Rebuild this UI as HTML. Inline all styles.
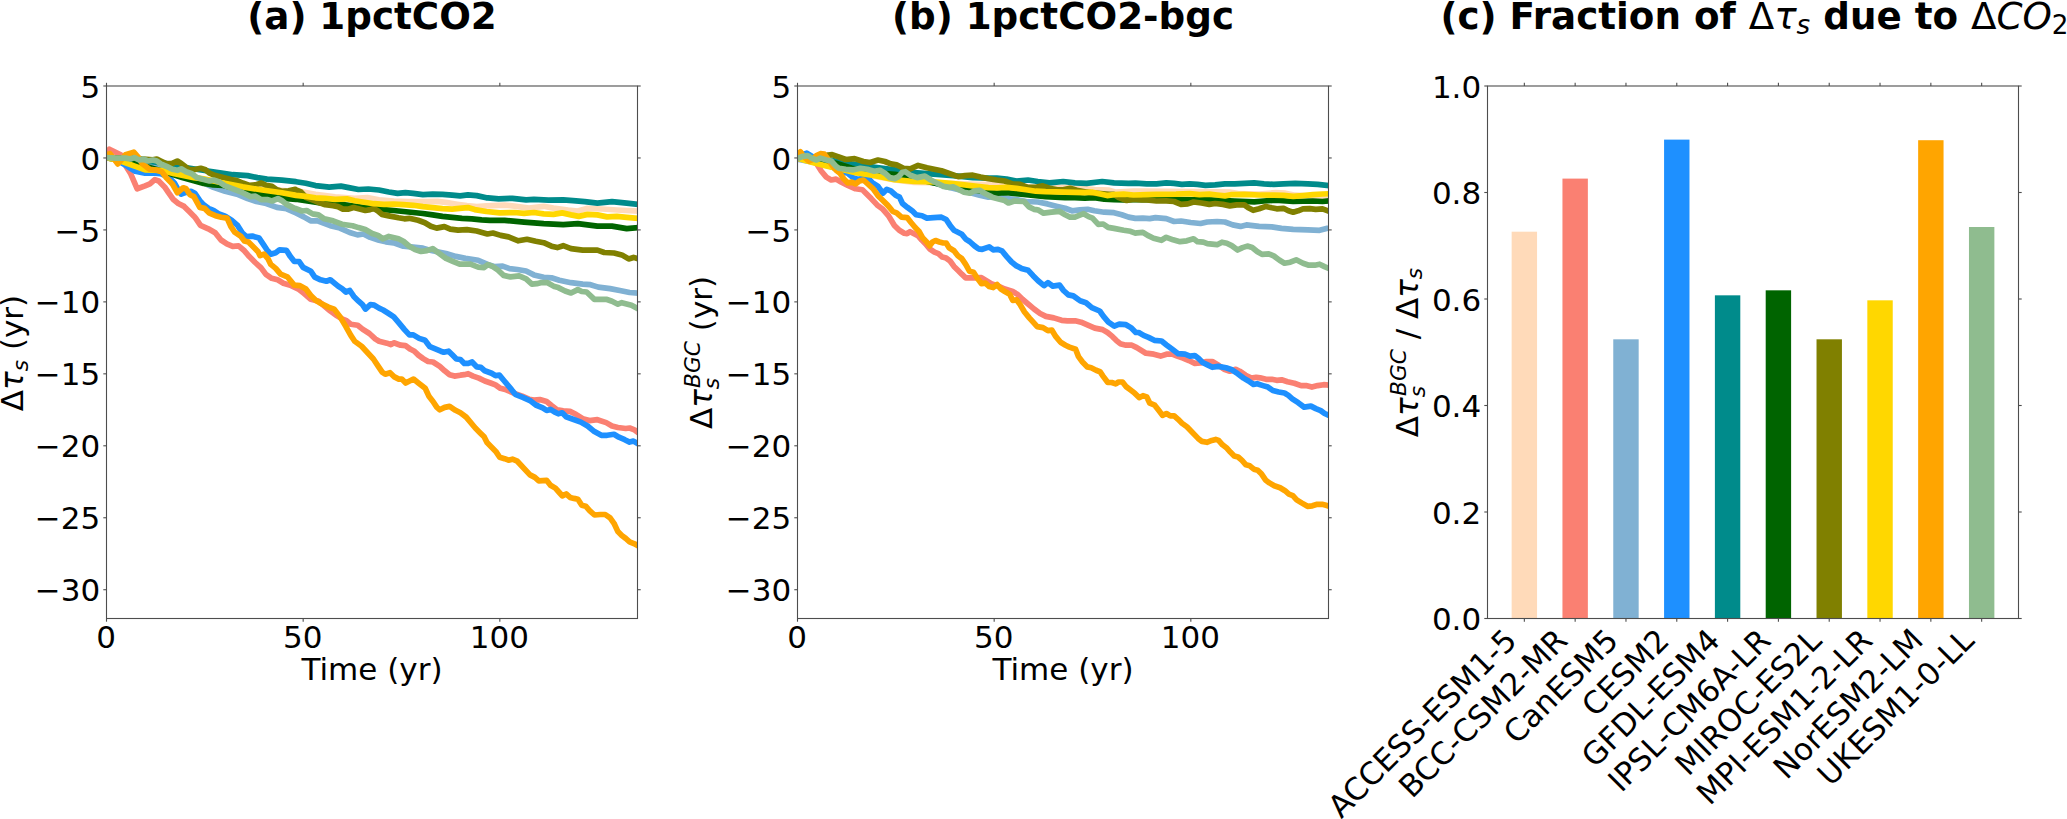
<!DOCTYPE html>
<html lang="en"><head><meta charset="utf-8"><title>Figure</title>
<style>html,body{margin:0;padding:0;background:#fff}body{width:2067px;height:819px;overflow:hidden}svg{display:block}text{font-family:"DejaVu Sans","Liberation Sans",sans-serif;fill:#000}.t{font-size:31.00px}.b{font-weight:bold;font-size:37.25px}.n{font-weight:normal;font-style:normal}.i{font-style:italic}.sp{fill:none;stroke:#4d4d4d;stroke-width:1.1}.tk{stroke:#4d4d4d;stroke-width:1.1}.ln{fill:none;stroke-width:5.7;stroke-linejoin:round;stroke-linecap:butt}</style></head><body>
<svg width="2067" height="819" viewBox="0 0 2067 819">
<rect width="2067" height="819" fill="#fff"/>
<defs>
<clipPath id="c0"><rect x="106.50" y="86.00" width="531.00" height="532.50"/></clipPath>
<clipPath id="c1"><rect x="797.50" y="86.00" width="531.00" height="532.50"/></clipPath>
</defs>
<g clip-path="url(#c0)">
<path class="ln" stroke="#ffdab9" d="M106.5 157.8 L135.3 164.4 L164.6 172.2 L198.8 181.0 L223.2 183.5 L252.5 187.8 L286.7 190.8 L301.9 191.7 L315.5 194.4 L335.1 196.9 L354.6 198.3 L367.3 197.6 L379.0 199.8 L393.7 201.2 L408.3 201.7 L422.9 201.7 L437.6 201.4 L447.4 202.7 L457.1 204.2 L466.9 205.6 L476.7 206.5 L486.4 205.8 L504.6 205.1 L514.4 206.1 L529.0 208.1 L543.7 206.3 L553.4 208.1 L568.1 210.0 L577.8 211.0 L587.6 208.3 L602.2 209.0 L616.9 210.0 L638.9 211.1"/>
<path class="ln" stroke="#fa8072" d="M106.5 157.4 L109.4 149.3 L120.7 154.7 L125.5 165.4 L130.4 173.2 L137.2 188.8 L145.1 185.9 L149.9 183.9 L154.8 179.6 L158.7 181.0 L164.6 186.9 L168.5 192.7 L173.4 199.6 L178.3 203.5 L184.1 206.4 L189.0 211.3 L193.9 216.2 L195.6 218.1 L200.5 225.4 L208.3 228.8 L215.2 232.7 L221.0 240.0 L226.9 243.9 L232.7 246.4 L238.6 245.9 L244.4 250.8 L249.3 256.6 L255.2 262.5 L261.1 267.9 L265.9 274.4 L271.7 278.3 L277.6 279.8 L283.4 283.2 L291.2 285.6 L299.1 289.5 L303.9 293.4 L310.8 299.3 L318.6 301.2 L324.4 306.1 L330.3 311.0 L337.1 315.9 L342.0 318.8 L345.9 320.3 L350.8 324.2 L357.7 325.2 L362.5 329.1 L369.4 333.5 L375.2 338.9 L379.1 341.3 L386.9 343.2 L390.9 344.7 L393.8 342.8 L400.6 345.2 L405.5 345.7 L410.6 349.3 L414.4 351.2 L418.4 355.1 L423.2 358.6 L428.1 361.5 L433.0 362.0 L439.8 366.4 L444.7 370.8 L449.6 374.7 L454.5 376.1 L460.4 375.2 L464.3 374.7 L468.2 373.7 L473.1 376.1 L478.9 378.1 L484.8 381.0 L490.6 383.0 L495.5 384.9 L500.4 388.3 L506.2 389.8 L514.4 393.3 L522.2 396.2 L529.0 399.2 L533.9 400.1 L539.8 399.6 L546.6 401.6 L551.5 405.5 L557.3 409.9 L563.2 410.9 L570.0 411.4 L575.9 414.3 L582.7 418.7 L589.5 420.6 L597.4 419.7 L606.2 422.6 L612.0 426.0 L617.9 427.5 L625.7 428.5 L629.6 428.0 L634.5 429.9 L638.9 433.1"/>
<path class="ln" stroke="#80b1d3" d="M106.5 157.6 L130.4 160.5 L154.8 164.9 L184.1 174.7 L203.7 183.0 L213.4 187.4 L225.1 191.3 L236.9 194.2 L247.6 198.6 L256.4 201.5 L266.2 203.5 L276.9 207.4 L286.7 208.8 L296.0 213.0 L303.8 216.9 L310.6 220.8 L317.5 220.8 L330.2 225.7 L339.9 228.1 L349.7 232.5 L357.5 234.9 L363.4 234.0 L370.2 237.4 L379.0 240.3 L385.8 241.8 L393.7 242.8 L403.4 246.2 L413.2 247.2 L422.9 248.1 L428.8 250.0 L446.0 253.5 L455.8 256.4 L465.5 258.4 L478.2 260.3 L487.0 264.2 L494.8 266.6 L502.6 266.1 L509.5 268.6 L517.3 269.5 L526.1 271.0 L533.9 274.9 L543.7 277.3 L551.5 277.8 L559.3 280.3 L571.0 282.7 L582.7 284.2 L590.5 284.7 L598.3 287.1 L610.1 288.6 L619.8 290.5 L629.6 292.5 L638.9 293.1"/>
<path class="ln" stroke="#1e90ff" d="M106.5 156.6 L115.8 159.5 L124.5 164.4 L130.4 168.3 L135.3 171.2 L145.1 173.2 L154.8 173.2 L160.7 173.7 L168.5 177.1 L174.4 183.0 L178.3 189.8 L181.2 194.2 L185.1 192.7 L191.0 191.3 L194.9 193.2 L199.8 200.6 L203.7 204.9 L208.5 208.4 L213.4 210.3 L218.3 213.7 L225.1 216.2 L225.9 216.6 L231.8 220.5 L237.6 225.4 L242.5 233.2 L246.4 236.6 L252.3 236.1 L259.1 238.1 L263.0 243.9 L266.9 249.8 L270.8 254.2 L275.7 252.7 L279.6 249.8 L286.4 250.3 L290.4 256.6 L294.3 261.5 L299.1 261.5 L303.1 267.4 L310.9 271.3 L314.8 277.1 L320.6 279.8 L326.4 281.2 L330.3 279.8 L338.1 286.1 L342.0 288.6 L345.9 292.0 L349.8 290.5 L353.8 296.4 L358.6 301.2 L362.5 304.7 L365.5 309.1 L370.4 304.7 L374.3 305.2 L379.1 308.1 L383.1 310.0 L387.9 313.0 L393.8 316.9 L398.7 322.7 L404.5 329.6 L409.4 334.9 L413.3 334.9 L419.2 338.4 L425.0 340.3 L429.9 346.7 L440.8 351.2 L443.8 352.2 L448.6 351.2 L452.5 355.1 L456.4 359.0 L460.4 359.5 L464.3 363.4 L468.2 363.4 L472.1 362.0 L476.9 366.9 L480.9 367.3 L484.8 370.8 L491.6 373.2 L495.5 375.6 L499.4 375.2 L504.3 381.0 L511.4 389.4 L515.3 394.3 L522.2 397.2 L530.0 400.6 L535.8 405.0 L542.7 407.9 L546.6 410.4 L550.5 409.4 L554.4 411.9 L558.3 413.8 L562.2 412.8 L566.1 416.7 L573.0 419.2 L580.8 422.1 L587.6 426.0 L593.5 430.9 L601.3 435.3 L607.1 435.3 L614.0 434.3 L618.9 437.2 L624.7 439.7 L629.6 442.1 L633.5 441.1 L638.9 444.3"/>
<path class="ln" stroke="#008b8b" d="M106.5 157.8 L135.3 159.5 L168.5 163.9 L178.3 166.4 L190.0 168.3 L209.5 171.2 L223.2 173.2 L232.9 174.7 L247.6 175.6 L257.4 177.6 L267.1 179.1 L281.8 180.2 L296.0 181.7 L305.8 183.2 L315.5 185.6 L329.2 187.1 L340.9 186.1 L348.7 187.6 L358.5 189.5 L368.3 189.0 L379.0 190.0 L388.8 192.0 L397.6 193.4 L405.4 192.7 L413.2 193.4 L422.9 194.6 L432.7 194.2 L442.5 194.4 L452.2 195.2 L460.1 195.9 L467.9 194.9 L476.7 195.6 L486.4 197.8 L488.0 197.8 L498.7 198.8 L512.4 198.3 L526.1 199.8 L533.9 199.3 L548.5 200.2 L563.2 199.8 L573.0 200.7 L584.7 201.7 L597.4 203.2 L612.0 201.7 L626.7 203.2 L638.9 204.4"/>
<path class="ln" stroke="#006400" d="M106.5 157.8 L135.3 163.4 L164.6 171.7 L182.2 177.6 L193.9 180.8 L203.7 183.5 L213.4 184.9 L223.2 185.5 L232.9 187.8 L242.7 190.3 L252.5 192.7 L272.0 196.2 L286.7 198.6 L296.0 199.3 L305.8 200.8 L315.5 202.2 L325.3 203.7 L335.1 204.2 L344.8 204.7 L354.6 206.1 L364.4 207.6 L374.1 208.3 L383.9 209.6 L393.7 210.5 L403.4 211.5 L413.2 212.5 L422.9 213.5 L432.7 214.9 L442.5 216.4 L452.2 217.4 L462.0 218.3 L471.8 218.8 L481.6 219.8 L489.9 220.3 L504.6 220.3 L524.1 222.2 L543.7 223.7 L563.2 224.7 L577.8 223.7 L597.4 226.1 L612.0 226.1 L626.7 228.6 L638.9 227.5"/>
<path class="ln" stroke="#808000" d="M106.5 157.6 L125.5 158.1 L134.3 157.8 L143.1 159.2 L152.9 159.8 L156.8 159.0 L160.7 161.0 L166.6 163.9 L172.4 163.4 L177.3 161.0 L181.2 163.4 L186.1 167.3 L190.0 169.8 L195.8 169.3 L200.7 168.3 L205.6 169.8 L209.5 173.2 L215.4 175.6 L223.2 177.6 L231.0 179.6 L236.9 180.5 L242.7 183.0 L249.6 185.4 L255.4 184.9 L261.3 183.0 L266.2 185.4 L272.0 186.4 L276.9 189.8 L281.8 191.3 L288.6 190.8 L295.4 189.3 L296.0 190.0 L300.9 192.0 L305.8 197.3 L315.5 201.2 L325.3 204.7 L333.1 205.6 L338.0 206.6 L342.9 209.1 L348.7 209.1 L353.6 207.6 L359.5 209.1 L365.3 210.5 L370.2 209.6 L374.1 208.6 L378.0 211.0 L381.9 214.4 L388.8 215.9 L398.5 217.8 L404.4 218.8 L409.3 218.3 L418.1 220.3 L424.9 222.7 L430.8 226.2 L436.6 228.1 L444.4 226.6 L450.3 229.1 L458.1 230.1 L466.9 229.6 L476.7 231.0 L487.4 234.0 L492.9 233.0 L500.7 235.4 L508.5 236.9 L518.3 240.8 L527.0 239.3 L535.8 241.3 L543.7 242.7 L551.5 246.2 L557.3 247.6 L563.2 245.7 L571.0 248.6 L582.7 250.1 L597.4 250.1 L604.2 252.5 L614.0 253.0 L621.8 254.9 L628.6 258.9 L633.5 257.4 L638.9 259.1"/>
<path class="ln" stroke="#ffd700" d="M106.5 157.8 L120.7 161.0 L135.3 166.4 L145.1 169.8 L160.7 170.3 L174.4 173.7 L184.1 175.6 L193.9 177.6 L203.7 178.9 L223.2 183.0 L242.7 186.9 L262.2 190.0 L281.8 192.7 L296.0 195.4 L305.8 196.4 L315.5 197.8 L325.3 198.3 L335.1 199.3 L346.8 198.8 L354.6 200.8 L364.4 202.2 L374.1 203.7 L383.9 204.4 L393.7 204.2 L403.4 204.7 L413.2 205.3 L422.9 206.6 L432.7 207.6 L442.5 208.6 L452.2 209.1 L462.0 208.1 L467.9 207.6 L474.7 209.6 L486.4 211.5 L499.7 212.9 L514.4 212.5 L524.1 213.4 L533.9 212.5 L543.7 213.9 L553.4 214.4 L562.2 212.9 L571.0 214.9 L578.8 216.4 L587.6 214.4 L597.4 214.9 L607.1 216.9 L616.9 216.4 L626.7 217.3 L638.9 218.4"/>
<path class="ln" stroke="#ffa500" d="M106.5 154.7 L109.9 153.7 L113.8 158.6 L117.7 163.9 L121.6 159.5 L125.5 154.7 L133.8 152.2 L138.2 157.1 L142.1 163.4 L147.0 167.3 L149.9 169.3 L156.8 170.3 L161.7 171.7 L166.6 178.1 L172.4 183.9 L177.3 192.7 L183.2 187.8 L186.1 188.8 L190.0 194.7 L193.9 196.6 L199.8 207.4 L204.6 208.4 L209.5 213.2 L215.4 215.7 L221.2 217.2 L227.1 218.1 L227.8 219.5 L230.8 226.4 L234.7 232.2 L240.6 236.1 L244.4 241.0 L248.4 242.0 L254.2 247.8 L258.1 251.8 L260.1 255.7 L264.0 254.2 L267.9 258.6 L270.8 264.4 L275.7 268.4 L280.6 274.2 L287.3 276.8 L294.2 285.1 L300.0 285.6 L305.9 289.0 L310.8 295.4 L315.7 300.3 L320.6 303.2 L328.4 307.1 L334.2 309.1 L340.1 316.9 L345.9 326.6 L350.8 335.4 L354.7 341.3 L361.6 346.2 L373.4 359.0 L378.3 366.4 L382.2 372.2 L385.2 374.2 L390.0 372.7 L393.9 376.6 L398.8 379.1 L401.8 379.1 L405.7 383.0 L409.6 381.0 L413.5 379.1 L418.4 383.0 L425.2 388.3 L429.1 396.6 L433.0 401.5 L436.9 407.4 L439.8 409.8 L444.7 407.4 L449.6 406.4 L455.5 410.3 L460.4 412.8 L466.2 417.1 L475.3 428.0 L480.2 432.9 L484.1 436.8 L487.0 442.6 L490.9 446.5 L495.8 451.4 L499.7 457.3 L504.6 458.7 L508.5 460.2 L512.4 459.2 L517.3 461.2 L530.0 474.9 L534.9 477.4 L538.8 480.8 L546.6 480.3 L550.5 485.2 L555.4 488.1 L559.3 492.5 L562.3 495.9 L566.2 494.0 L570.1 497.4 L574.0 498.4 L577.9 499.3 L581.8 505.2 L585.7 506.2 L589.6 510.6 L594.5 515.0 L600.4 514.5 L605.2 514.5 L610.1 517.9 L614.0 523.3 L617.9 531.6 L621.8 535.5 L625.7 538.4 L629.6 541.8 L634.5 543.8 L638.9 546.4"/>
<path class="ln" stroke="#8fbc8f" d="M106.5 157.6 L115.8 158.1 L125.5 158.1 L130.4 159.0 L134.3 157.6 L139.2 160.0 L143.1 159.0 L148.0 161.0 L152.9 160.0 L156.8 161.0 L160.7 163.9 L166.6 166.4 L172.4 169.3 L177.3 170.3 L181.2 168.8 L186.1 171.7 L191.9 173.7 L196.8 177.6 L203.7 179.6 L209.5 181.0 L213.4 180.0 L219.3 182.0 L225.1 185.9 L232.9 188.8 L242.7 192.7 L250.5 196.6 L255.4 196.2 L261.3 199.6 L267.1 199.6 L272.0 201.0 L277.9 198.6 L281.8 200.6 L286.7 204.4 L294.5 208.4 L296.0 208.6 L301.9 211.0 L306.7 210.5 L312.6 213.9 L318.5 214.9 L324.3 218.8 L333.1 220.8 L341.9 224.2 L352.6 225.7 L358.5 227.6 L365.3 229.6 L372.2 233.5 L378.0 235.4 L382.9 238.8 L388.8 236.4 L398.5 238.8 L403.4 241.3 L409.3 246.2 L415.1 249.6 L421.0 251.5 L426.9 250.6 L432.7 248.6 L446.0 258.4 L452.8 261.3 L459.7 264.2 L470.4 264.2 L478.2 267.1 L484.1 267.6 L488.0 264.6 L492.9 266.6 L497.8 270.0 L503.6 275.4 L510.4 276.9 L519.2 275.9 L526.1 278.8 L531.9 284.2 L536.8 283.7 L540.7 282.7 L547.6 282.7 L554.4 286.6 L558.3 287.6 L565.1 291.0 L571.0 293.0 L577.8 289.6 L581.7 291.5 L586.6 292.0 L594.4 299.3 L606.2 299.3 L612.0 301.3 L617.9 304.2 L621.8 302.7 L631.5 305.2 L638.9 309.2"/>
</g>
<line class="tk" x1="106.50" y1="618.50" x2="106.50" y2="621.70"/>
<line class="tk" x1="106.50" y1="86.00" x2="106.50" y2="82.80"/>
<text class="t" text-anchor="middle" x="106.10" y="647.60">0</text>
<line class="tk" x1="303.17" y1="618.50" x2="303.17" y2="621.70"/>
<line class="tk" x1="303.17" y1="86.00" x2="303.17" y2="82.80"/>
<text class="t" text-anchor="middle" x="302.77" y="647.60">50</text>
<line class="tk" x1="499.83" y1="618.50" x2="499.83" y2="621.70"/>
<line class="tk" x1="499.83" y1="86.00" x2="499.83" y2="82.80"/>
<text class="t" text-anchor="middle" x="499.43" y="647.60">100</text>
<line class="tk" x1="106.50" y1="86.00" x2="103.30" y2="86.00"/>
<line class="tk" x1="637.50" y1="86.00" x2="640.70" y2="86.00"/>
<text class="t" text-anchor="end" x="100.20" y="97.60">5</text>
<line class="tk" x1="106.50" y1="157.96" x2="103.30" y2="157.96"/>
<line class="tk" x1="637.50" y1="157.96" x2="640.70" y2="157.96"/>
<text class="t" text-anchor="end" x="100.20" y="169.56">0</text>
<line class="tk" x1="106.50" y1="229.92" x2="103.30" y2="229.92"/>
<line class="tk" x1="637.50" y1="229.92" x2="640.70" y2="229.92"/>
<text class="t" text-anchor="end" x="100.20" y="241.52">−5</text>
<line class="tk" x1="106.50" y1="301.88" x2="103.30" y2="301.88"/>
<line class="tk" x1="637.50" y1="301.88" x2="640.70" y2="301.88"/>
<text class="t" text-anchor="end" x="100.20" y="313.48">−10</text>
<line class="tk" x1="106.50" y1="373.84" x2="103.30" y2="373.84"/>
<line class="tk" x1="637.50" y1="373.84" x2="640.70" y2="373.84"/>
<text class="t" text-anchor="end" x="100.20" y="385.44">−15</text>
<line class="tk" x1="106.50" y1="445.80" x2="103.30" y2="445.80"/>
<line class="tk" x1="637.50" y1="445.80" x2="640.70" y2="445.80"/>
<text class="t" text-anchor="end" x="100.20" y="457.40">−20</text>
<line class="tk" x1="106.50" y1="517.76" x2="103.30" y2="517.76"/>
<line class="tk" x1="637.50" y1="517.76" x2="640.70" y2="517.76"/>
<text class="t" text-anchor="end" x="100.20" y="529.36">−25</text>
<line class="tk" x1="106.50" y1="589.72" x2="103.30" y2="589.72"/>
<line class="tk" x1="637.50" y1="589.72" x2="640.70" y2="589.72"/>
<text class="t" text-anchor="end" x="100.20" y="601.32">−30</text>
<rect class="sp" x="106.50" y="86.00" width="531.00" height="532.50"/>
<text class="t" text-anchor="middle" x="372.00" y="680.00">Time (yr)</text>
<g clip-path="url(#c1)">
<path class="ln" stroke="#ffdab9" d="M797.5 158.1 L826.3 165.4 L855.6 172.7 L894.7 180.0 L914.2 182.5 L943.5 183.0 L977.7 184.4 L988.4 184.7 L996.8 184.4 L1006.5 184.9 L1026.1 186.9 L1049.5 187.5 L1065.1 187.3 L1074.9 188.1 L1084.7 188.6 L1094.4 189.6 L1109.1 190.1 L1115.9 192.2 L1133.5 191.2 L1146.8 191.2 L1166.3 191.4 L1195.6 191.7 L1215.1 191.9 L1229.8 192.0 L1239.5 193.7 L1259.1 194.2 L1275.7 192.7 L1285.4 193.2 L1295.2 195.2 L1312.8 196.1 L1329.9 196.6"/>
<path class="ln" stroke="#fa8072" d="M797.5 156.1 L806.8 157.1 L812.6 158.6 L816.5 163.4 L821.4 171.2 L826.3 177.1 L831.2 180.0 L836.1 179.1 L841.0 182.0 L847.8 185.4 L855.6 188.8 L862.4 189.8 L865.4 192.7 L871.2 198.6 L877.1 204.9 L882.9 209.3 L888.8 216.2 L894.4 225.4 L899.3 230.3 L904.2 233.2 L907.1 233.7 L910.1 231.7 L914.0 233.7 L917.9 235.6 L921.8 240.0 L925.7 243.9 L929.6 248.8 L934.5 252.2 L938.4 253.7 L942.3 257.1 L946.2 258.1 L950.1 261.0 L954.0 266.4 L957.9 270.3 L961.8 274.2 L965.7 277.8 L974.5 277.8 L981.4 277.6 L991.2 283.7 L997.1 285.6 L1004.9 289.0 L1012.7 291.5 L1017.6 294.4 L1022.5 299.3 L1028.4 304.2 L1034.2 309.1 L1040.1 313.5 L1045.9 316.4 L1053.8 317.9 L1061.6 320.3 L1067.4 320.8 L1075.2 320.8 L1081.1 322.2 L1087.9 325.2 L1094.8 328.1 L1102.6 329.6 L1107.5 332.5 L1112.3 336.4 L1116.2 340.3 L1120.2 343.7 L1126.0 345.2 L1131.9 345.2 L1136.8 347.6 L1145.9 353.2 L1153.8 354.2 L1160.6 356.1 L1166.5 354.2 L1172.3 354.2 L1177.2 356.1 L1183.0 358.1 L1188.9 360.5 L1194.8 363.4 L1200.6 362.9 L1206.5 361.5 L1212.3 361.5 L1217.2 364.4 L1224.1 369.3 L1229.9 371.2 L1235.8 369.3 L1239.7 371.2 L1245.5 375.2 L1251.4 378.1 L1256.2 377.3 L1260.1 377.8 L1266.0 379.3 L1271.8 379.3 L1276.7 380.3 L1281.6 379.8 L1287.5 381.7 L1294.3 383.2 L1301.1 385.6 L1306.0 385.6 L1311.9 387.1 L1317.7 385.6 L1323.6 384.7 L1329.9 385.2"/>
<path class="ln" stroke="#80b1d3" d="M797.5 159.3 L836.1 166.4 L875.1 170.8 L894.7 172.4 L914.2 176.6 L943.5 185.9 L963.0 190.8 L979.6 195.2 L988.4 197.1 L996.8 196.6 L1006.5 198.6 L1016.3 199.6 L1026.1 201.5 L1037.8 202.0 L1047.5 203.9 L1057.3 206.4 L1065.1 208.3 L1072.0 210.8 L1079.8 209.8 L1087.6 209.3 L1094.4 210.8 L1104.2 212.2 L1114.0 212.7 L1121.8 214.7 L1128.6 217.1 L1135.4 218.4 L1142.9 218.1 L1149.7 218.6 L1155.5 217.6 L1166.3 218.6 L1174.1 221.5 L1181.0 221.0 L1190.7 222.5 L1200.5 223.5 L1207.3 222.0 L1217.1 221.5 L1224.9 222.0 L1232.7 224.9 L1240.5 226.4 L1246.4 224.9 L1259.1 226.4 L1271.8 226.9 L1281.5 228.4 L1293.2 229.3 L1307.9 229.8 L1319.6 230.3 L1326.5 228.4 L1329.9 228.2"/>
<path class="ln" stroke="#1e90ff" d="M797.5 158.1 L801.9 154.7 L806.8 153.2 L812.6 156.6 L826.3 164.4 L841.0 171.2 L847.8 173.2 L853.6 178.1 L858.5 179.6 L863.4 177.6 L867.3 177.6 L872.2 182.5 L878.0 186.4 L882.9 193.2 L886.8 189.3 L890.8 190.8 L895.6 195.2 L899.5 197.1 L902.5 203.5 L907.4 207.4 L912.2 210.8 L916.1 214.7 L922.0 215.7 L926.9 218.1 L933.7 217.6 L941.5 217.2 L946.2 219.5 L950.1 225.4 L954.0 230.3 L958.9 232.7 L961.8 234.2 L965.7 239.1 L969.6 241.5 L974.5 245.9 L978.4 248.8 L982.3 249.3 L989.2 246.9 L993.1 249.8 L998.0 249.3 L1001.9 250.8 L1006.7 256.6 L1011.6 262.0 L1016.5 265.9 L1021.4 268.4 L1028.2 270.3 L1033.1 275.7 L1038.1 280.7 L1044.0 285.6 L1047.9 282.7 L1052.8 286.1 L1059.6 285.1 L1063.5 290.5 L1068.4 294.9 L1073.3 295.9 L1080.1 300.8 L1086.0 302.7 L1091.8 307.6 L1099.7 311.0 L1103.5 316.4 L1108.4 322.2 L1114.3 326.1 L1119.2 324.2 L1126.0 324.7 L1130.9 327.6 L1135.8 332.5 L1138.7 332.5 L1143.6 335.4 L1148.5 337.4 L1154.3 340.3 L1161.6 341.0 L1166.5 344.9 L1172.3 349.3 L1178.2 353.7 L1185.0 354.2 L1189.9 356.1 L1194.8 355.6 L1198.7 358.6 L1202.6 362.5 L1207.5 364.9 L1212.3 367.3 L1218.2 366.4 L1226.0 367.8 L1231.9 369.8 L1237.7 373.7 L1243.6 378.1 L1248.5 381.0 L1253.4 384.4 L1257.2 383.7 L1263.0 385.6 L1267.9 387.1 L1272.8 390.5 L1278.7 392.0 L1284.5 393.0 L1288.4 395.4 L1292.3 398.8 L1298.2 402.7 L1304.1 407.1 L1310.9 406.1 L1315.8 408.6 L1320.7 410.6 L1324.6 413.5 L1329.9 415.9"/>
<path class="ln" stroke="#008b8b" d="M797.5 157.8 L826.3 159.5 L851.7 163.9 L875.1 167.3 L894.7 169.8 L914.2 172.7 L933.7 174.2 L953.2 175.6 L972.8 177.6 L988.4 178.1 L996.8 178.1 L1006.5 179.0 L1016.3 181.0 L1028.0 180.0 L1037.8 181.5 L1049.5 182.9 L1063.2 181.5 L1074.9 182.9 L1086.6 183.4 L1102.2 181.5 L1114.0 182.9 L1128.6 183.4 L1135.4 183.2 L1146.8 183.9 L1156.5 183.9 L1166.3 182.9 L1174.1 183.4 L1181.9 184.4 L1189.7 183.9 L1197.5 184.4 L1205.4 185.4 L1215.1 184.9 L1224.9 183.9 L1234.7 183.9 L1244.4 183.4 L1254.2 182.9 L1264.0 183.9 L1273.7 184.4 L1283.5 183.9 L1295.2 183.4 L1307.9 183.9 L1317.7 184.4 L1329.9 185.6"/>
<path class="ln" stroke="#006400" d="M797.5 157.8 L816.5 159.5 L836.1 163.2 L843.9 165.6 L851.7 168.3 L860.5 169.8 L875.1 172.0 L884.9 173.7 L894.7 174.4 L904.4 175.9 L933.7 183.0 L967.9 189.3 L988.4 192.2 L996.8 193.2 L1006.5 192.7 L1016.3 193.7 L1026.1 194.7 L1035.8 195.6 L1045.6 196.6 L1055.4 197.1 L1065.1 197.6 L1074.9 197.6 L1084.7 198.1 L1094.4 197.6 L1104.2 199.1 L1114.0 199.6 L1123.7 200.0 L1133.5 199.6 L1146.8 199.6 L1156.5 199.6 L1178.0 199.6 L1191.7 199.8 L1209.3 199.8 L1224.9 200.5 L1234.7 201.0 L1254.2 201.8 L1264.0 201.0 L1275.7 200.2 L1293.2 201.5 L1312.8 201.0 L1322.5 201.5 L1329.9 200.8"/>
<path class="ln" stroke="#808000" d="M797.5 157.8 L816.5 158.6 L828.2 155.1 L832.2 154.7 L838.0 156.6 L845.8 159.5 L854.6 158.6 L863.4 161.5 L870.2 162.5 L878.0 160.0 L884.9 161.5 L890.8 163.9 L896.6 164.9 L903.5 168.3 L910.3 168.8 L918.1 165.4 L926.9 167.8 L941.5 170.8 L951.3 174.2 L958.1 176.6 L965.0 175.6 L972.8 175.2 L980.6 177.1 L988.4 178.6 L996.8 180.0 L1004.6 181.0 L1012.4 183.9 L1020.2 184.4 L1028.0 187.3 L1035.8 187.3 L1042.7 185.9 L1049.5 188.3 L1057.3 189.8 L1063.2 189.8 L1070.0 188.3 L1076.8 190.3 L1084.7 191.7 L1094.4 193.2 L1109.1 194.4 L1114.0 194.4 L1118.8 197.6 L1126.7 200.5 L1133.5 199.1 L1141.9 199.8 L1146.8 200.0 L1156.5 201.0 L1166.3 200.8 L1174.1 201.5 L1181.0 204.4 L1187.8 203.9 L1193.6 202.0 L1201.5 203.0 L1209.3 204.4 L1215.1 203.5 L1222.9 204.4 L1229.8 205.9 L1236.6 204.9 L1244.4 204.9 L1248.3 207.8 L1253.2 210.3 L1259.1 208.8 L1265.9 206.4 L1271.8 207.8 L1276.7 208.8 L1283.5 208.3 L1288.4 210.8 L1293.2 212.2 L1298.1 210.8 L1303.0 208.8 L1309.8 208.6 L1315.7 209.3 L1322.5 208.8 L1329.9 211.6"/>
<path class="ln" stroke="#ffd700" d="M797.5 158.1 L811.6 162.3 L826.3 165.9 L841.0 169.3 L855.6 172.7 L875.1 175.6 L884.9 177.6 L894.7 179.6 L914.2 181.5 L933.7 181.8 L953.2 183.5 L972.8 185.9 L988.4 187.7 L996.8 187.8 L1006.5 187.3 L1016.3 188.3 L1026.1 189.8 L1035.8 191.2 L1045.6 191.7 L1065.1 192.2 L1084.7 192.7 L1092.5 192.2 L1099.3 193.7 L1107.1 195.6 L1114.0 194.7 L1123.7 194.2 L1133.5 195.0 L1146.8 194.6 L1156.5 194.4 L1176.1 194.2 L1189.7 193.7 L1199.5 194.7 L1209.3 194.2 L1217.1 195.0 L1224.9 195.9 L1230.8 194.7 L1244.4 194.4 L1259.1 195.0 L1273.7 195.2 L1283.5 195.3 L1293.2 196.3 L1303.0 195.6 L1312.8 194.7 L1322.5 194.0 L1329.9 193.7"/>
<path class="ln" stroke="#ffa500" d="M797.5 154.7 L800.4 151.7 L803.8 156.6 L808.7 161.0 L812.6 159.5 L816.5 155.6 L820.4 153.7 L824.3 154.2 L828.2 159.5 L832.2 165.4 L836.1 170.3 L840.0 173.2 L843.9 179.1 L847.8 183.0 L851.7 182.0 L855.6 183.9 L859.5 181.0 L863.4 180.0 L867.3 183.5 L873.2 188.8 L878.0 195.7 L882.9 200.6 L887.8 205.4 L892.7 211.3 L896.6 212.8 L901.5 217.2 L907.1 217.6 L911.0 222.5 L915.0 227.3 L918.9 231.2 L922.8 238.1 L926.7 242.0 L929.6 245.9 L932.5 242.0 L935.5 240.5 L939.4 242.0 L943.3 243.0 L946.2 243.0 L949.1 247.8 L954.0 250.8 L957.9 255.7 L961.8 258.6 L965.7 264.4 L969.6 271.3 L973.5 272.3 L976.5 277.1 L981.5 283.7 L985.4 283.2 L989.3 286.6 L993.2 287.6 L997.1 284.6 L1001.0 289.0 L1004.9 291.5 L1009.8 294.4 L1012.7 300.3 L1016.6 299.8 L1020.5 305.2 L1024.5 312.0 L1029.3 317.9 L1033.2 322.2 L1037.2 326.6 L1043.0 327.6 L1047.9 330.6 L1051.8 330.1 L1055.7 336.4 L1060.6 342.3 L1065.5 345.2 L1069.4 347.1 L1075.6 349.3 L1078.5 356.6 L1082.5 362.0 L1087.3 366.9 L1091.2 367.8 L1096.1 370.3 L1100.0 371.7 L1103.0 376.1 L1107.8 382.5 L1111.8 382.5 L1115.7 383.9 L1118.6 382.0 L1122.5 382.0 L1126.4 386.9 L1130.3 389.8 L1134.2 392.7 L1139.1 397.6 L1143.0 395.7 L1146.8 396.9 L1149.8 403.2 L1154.7 405.2 L1158.5 410.1 L1162.5 415.4 L1166.4 413.5 L1170.3 415.9 L1174.2 415.9 L1178.1 419.3 L1182.0 423.2 L1186.9 426.7 L1198.1 438.4 L1202.0 441.4 L1206.9 442.3 L1211.8 440.4 L1215.7 439.4 L1218.6 440.4 L1222.5 444.8 L1226.4 447.7 L1230.3 452.1 L1234.2 456.0 L1238.1 457.0 L1242.0 460.4 L1245.9 464.8 L1249.8 465.8 L1253.8 469.2 L1257.7 470.2 L1261.6 474.1 L1265.5 479.9 L1269.4 482.9 L1274.3 485.8 L1280.1 487.7 L1285.0 490.7 L1288.9 494.1 L1292.8 495.6 L1296.7 499.9 L1301.6 502.9 L1307.5 506.3 L1312.3 505.8 L1317.2 504.3 L1322.1 504.3 L1326.0 505.3 L1329.9 506.5"/>
<path class="ln" stroke="#8fbc8f" d="M797.5 158.6 L801.9 156.6 L807.7 155.6 L812.6 158.6 L816.5 160.0 L820.4 158.1 L826.3 160.0 L831.2 161.0 L836.1 166.4 L839.0 168.3 L845.8 169.3 L853.6 169.8 L860.5 168.3 L867.3 169.3 L874.1 171.2 L880.0 170.3 L884.9 173.2 L889.8 177.6 L894.7 178.6 L898.6 176.6 L902.5 172.2 L905.4 171.7 L910.3 175.2 L917.1 177.6 L924.9 176.1 L930.8 180.0 L936.6 183.0 L943.5 186.4 L949.3 187.4 L953.2 186.9 L959.1 189.8 L964.0 192.2 L969.9 193.2 L974.7 190.8 L979.6 190.3 L985.5 193.7 L991.3 196.6 L992.9 197.6 L998.7 199.1 L1004.6 200.5 L1008.5 203.0 L1014.3 201.0 L1024.1 201.5 L1029.0 206.9 L1033.9 209.3 L1037.8 209.8 L1043.6 213.2 L1051.5 212.2 L1059.3 211.3 L1065.1 214.7 L1070.0 217.1 L1074.9 217.1 L1079.8 215.2 L1083.7 213.7 L1088.6 216.6 L1092.5 218.1 L1098.3 224.4 L1103.2 224.0 L1108.1 227.4 L1114.0 228.4 L1123.7 230.3 L1130.5 231.3 L1135.4 233.2 L1137.0 232.8 L1142.9 232.3 L1147.7 235.4 L1153.6 238.3 L1161.4 240.3 L1166.3 237.3 L1173.1 239.8 L1180.0 241.7 L1186.8 240.8 L1193.6 238.8 L1197.5 241.7 L1203.4 242.2 L1207.3 243.7 L1217.1 244.7 L1222.0 242.2 L1226.8 243.2 L1231.7 245.6 L1237.6 250.0 L1242.5 247.6 L1247.3 246.1 L1252.2 247.6 L1257.1 251.5 L1262.0 254.4 L1268.8 253.9 L1273.7 255.9 L1279.6 260.3 L1284.5 263.2 L1290.3 262.2 L1296.2 259.8 L1303.0 263.2 L1308.9 265.2 L1314.7 265.2 L1319.6 264.2 L1324.5 266.6 L1329.9 268.9"/>
</g>
<line class="tk" x1="797.50" y1="618.50" x2="797.50" y2="621.70"/>
<line class="tk" x1="797.50" y1="86.00" x2="797.50" y2="82.80"/>
<text class="t" text-anchor="middle" x="797.10" y="647.60">0</text>
<line class="tk" x1="994.17" y1="618.50" x2="994.17" y2="621.70"/>
<line class="tk" x1="994.17" y1="86.00" x2="994.17" y2="82.80"/>
<text class="t" text-anchor="middle" x="993.77" y="647.60">50</text>
<line class="tk" x1="1190.83" y1="618.50" x2="1190.83" y2="621.70"/>
<line class="tk" x1="1190.83" y1="86.00" x2="1190.83" y2="82.80"/>
<text class="t" text-anchor="middle" x="1190.43" y="647.60">100</text>
<line class="tk" x1="797.50" y1="86.00" x2="794.30" y2="86.00"/>
<line class="tk" x1="1328.50" y1="86.00" x2="1331.70" y2="86.00"/>
<text class="t" text-anchor="end" x="791.20" y="97.60">5</text>
<line class="tk" x1="797.50" y1="157.96" x2="794.30" y2="157.96"/>
<line class="tk" x1="1328.50" y1="157.96" x2="1331.70" y2="157.96"/>
<text class="t" text-anchor="end" x="791.20" y="169.56">0</text>
<line class="tk" x1="797.50" y1="229.92" x2="794.30" y2="229.92"/>
<line class="tk" x1="1328.50" y1="229.92" x2="1331.70" y2="229.92"/>
<text class="t" text-anchor="end" x="791.20" y="241.52">−5</text>
<line class="tk" x1="797.50" y1="301.88" x2="794.30" y2="301.88"/>
<line class="tk" x1="1328.50" y1="301.88" x2="1331.70" y2="301.88"/>
<text class="t" text-anchor="end" x="791.20" y="313.48">−10</text>
<line class="tk" x1="797.50" y1="373.84" x2="794.30" y2="373.84"/>
<line class="tk" x1="1328.50" y1="373.84" x2="1331.70" y2="373.84"/>
<text class="t" text-anchor="end" x="791.20" y="385.44">−15</text>
<line class="tk" x1="797.50" y1="445.80" x2="794.30" y2="445.80"/>
<line class="tk" x1="1328.50" y1="445.80" x2="1331.70" y2="445.80"/>
<text class="t" text-anchor="end" x="791.20" y="457.40">−20</text>
<line class="tk" x1="797.50" y1="517.76" x2="794.30" y2="517.76"/>
<line class="tk" x1="1328.50" y1="517.76" x2="1331.70" y2="517.76"/>
<text class="t" text-anchor="end" x="791.20" y="529.36">−25</text>
<line class="tk" x1="797.50" y1="589.72" x2="794.30" y2="589.72"/>
<line class="tk" x1="1328.50" y1="589.72" x2="1331.70" y2="589.72"/>
<text class="t" text-anchor="end" x="791.20" y="601.32">−30</text>
<rect class="sp" x="797.50" y="86.00" width="531.00" height="532.50"/>
<text class="t" text-anchor="middle" x="1063.00" y="680.00">Time (yr)</text>
<text class="b" text-anchor="middle" x="372" y="28.7">(a) 1pctCO2</text>
<text class="b" text-anchor="middle" x="1063" y="28.7">(b) 1pctCO2-bgc</text>
<text class="b" text-anchor="middle" x="1754.5" y="28.7">(c) Fraction of <tspan class="n">Δ</tspan><tspan class="n i">τ</tspan><tspan class="n i" dy="5.5" font-size="26.2">s</tspan><tspan dy="-5.5"> due to </tspan><tspan class="n">Δ</tspan><tspan class="n i">CO</tspan><tspan class="n" dy="5.5" font-size="26.2">2</tspan></text>
<text class="t" text-anchor="middle" transform="translate(23.2 353) rotate(-90)">Δ<tspan class="i">τ</tspan><tspan class="i" dy="4.6" font-size="21.7">s</tspan><tspan dy="-4.6"> (yr)</tspan></text>
<text class="t" text-anchor="middle" transform="translate(712 352.5) rotate(-90)">Δ<tspan class="i">τ</tspan><tspan class="i" dy="7" font-size="21.7">s</tspan><tspan class="i" dy="-19" dx="-10" font-size="21.7">BGC</tspan><tspan dy="12"> (yr)</tspan></text>
<text class="t" text-anchor="middle" transform="translate(1417.5 352.5) rotate(-90)">Δ<tspan class="i">τ</tspan><tspan class="i" dy="7" font-size="21.7">s</tspan><tspan class="i" dy="-19" dx="-10" font-size="21.7">BGC</tspan><tspan dy="12"> / Δ</tspan><tspan class="i">τ</tspan><tspan class="i" dy="4.6" font-size="21.7">s</tspan></text>
<rect x="1511.64" y="231.69" width="25.41" height="386.81" fill="#ffdab9"/>
<rect x="1562.45" y="178.60" width="25.41" height="439.90" fill="#fa8072"/>
<rect x="1613.26" y="339.31" width="25.41" height="279.19" fill="#80b1d3"/>
<rect x="1664.08" y="139.62" width="25.41" height="478.88" fill="#1e90ff"/>
<rect x="1714.89" y="295.33" width="25.41" height="323.17" fill="#008b8b"/>
<rect x="1765.70" y="290.32" width="25.41" height="328.18" fill="#006400"/>
<rect x="1816.52" y="339.31" width="25.41" height="279.19" fill="#808000"/>
<rect x="1867.33" y="300.33" width="25.41" height="318.17" fill="#ffd700"/>
<rect x="1918.14" y="140.21" width="25.41" height="478.29" fill="#ffa500"/>
<rect x="1968.96" y="227.01" width="25.41" height="391.49" fill="#8fbc8f"/>
<line class="tk" x1="1524.34" y1="618.50" x2="1524.34" y2="621.70"/>
<line class="tk" x1="1524.34" y1="86.00" x2="1524.34" y2="82.80"/>
<text class="t" text-anchor="end" transform="translate(1518.44 642.20) rotate(-45)">ACCESS-ESM1-5</text>
<line class="tk" x1="1575.15" y1="618.50" x2="1575.15" y2="621.70"/>
<line class="tk" x1="1575.15" y1="86.00" x2="1575.15" y2="82.80"/>
<text class="t" text-anchor="end" transform="translate(1569.25 642.20) rotate(-45)">BCC-CSM2-MR</text>
<line class="tk" x1="1625.97" y1="618.50" x2="1625.97" y2="621.70"/>
<line class="tk" x1="1625.97" y1="86.00" x2="1625.97" y2="82.80"/>
<text class="t" text-anchor="end" transform="translate(1620.07 642.20) rotate(-45)">CanESM5</text>
<line class="tk" x1="1676.78" y1="618.50" x2="1676.78" y2="621.70"/>
<line class="tk" x1="1676.78" y1="86.00" x2="1676.78" y2="82.80"/>
<text class="t" text-anchor="end" transform="translate(1670.88 642.20) rotate(-45)">CESM2</text>
<line class="tk" x1="1727.59" y1="618.50" x2="1727.59" y2="621.70"/>
<line class="tk" x1="1727.59" y1="86.00" x2="1727.59" y2="82.80"/>
<text class="t" text-anchor="end" transform="translate(1721.69 642.20) rotate(-45)">GFDL-ESM4</text>
<line class="tk" x1="1778.41" y1="618.50" x2="1778.41" y2="621.70"/>
<line class="tk" x1="1778.41" y1="86.00" x2="1778.41" y2="82.80"/>
<text class="t" text-anchor="end" transform="translate(1772.51 642.20) rotate(-45)">IPSL-CM6A-LR</text>
<line class="tk" x1="1829.22" y1="618.50" x2="1829.22" y2="621.70"/>
<line class="tk" x1="1829.22" y1="86.00" x2="1829.22" y2="82.80"/>
<text class="t" text-anchor="end" transform="translate(1823.32 642.20) rotate(-45)">MIROC-ES2L</text>
<line class="tk" x1="1880.03" y1="618.50" x2="1880.03" y2="621.70"/>
<line class="tk" x1="1880.03" y1="86.00" x2="1880.03" y2="82.80"/>
<text class="t" text-anchor="end" transform="translate(1874.13 642.20) rotate(-45)">MPI-ESM1-2-LR</text>
<line class="tk" x1="1930.85" y1="618.50" x2="1930.85" y2="621.70"/>
<line class="tk" x1="1930.85" y1="86.00" x2="1930.85" y2="82.80"/>
<text class="t" text-anchor="end" transform="translate(1924.95 642.20) rotate(-45)">NorESM2-LM</text>
<line class="tk" x1="1981.66" y1="618.50" x2="1981.66" y2="621.70"/>
<line class="tk" x1="1981.66" y1="86.00" x2="1981.66" y2="82.80"/>
<text class="t" text-anchor="end" transform="translate(1975.76 642.20) rotate(-45)">UKESM1-0-LL</text>
<line class="tk" x1="1487.50" y1="618.50" x2="1484.30" y2="618.50"/>
<line class="tk" x1="2018.50" y1="618.50" x2="2021.70" y2="618.50"/>
<text class="t" text-anchor="end" x="1481.20" y="630.10">0.0</text>
<line class="tk" x1="1487.50" y1="512.00" x2="1484.30" y2="512.00"/>
<line class="tk" x1="2018.50" y1="512.00" x2="2021.70" y2="512.00"/>
<text class="t" text-anchor="end" x="1481.20" y="523.60">0.2</text>
<line class="tk" x1="1487.50" y1="405.50" x2="1484.30" y2="405.50"/>
<line class="tk" x1="2018.50" y1="405.50" x2="2021.70" y2="405.50"/>
<text class="t" text-anchor="end" x="1481.20" y="417.10">0.4</text>
<line class="tk" x1="1487.50" y1="299.00" x2="1484.30" y2="299.00"/>
<line class="tk" x1="2018.50" y1="299.00" x2="2021.70" y2="299.00"/>
<text class="t" text-anchor="end" x="1481.20" y="310.60">0.6</text>
<line class="tk" x1="1487.50" y1="192.50" x2="1484.30" y2="192.50"/>
<line class="tk" x1="2018.50" y1="192.50" x2="2021.70" y2="192.50"/>
<text class="t" text-anchor="end" x="1481.20" y="204.10">0.8</text>
<line class="tk" x1="1487.50" y1="86.00" x2="1484.30" y2="86.00"/>
<line class="tk" x1="2018.50" y1="86.00" x2="2021.70" y2="86.00"/>
<text class="t" text-anchor="end" x="1481.20" y="97.60">1.0</text>
<rect class="sp" x="1487.50" y="86.00" width="531.00" height="532.50"/>
</svg></body></html>
